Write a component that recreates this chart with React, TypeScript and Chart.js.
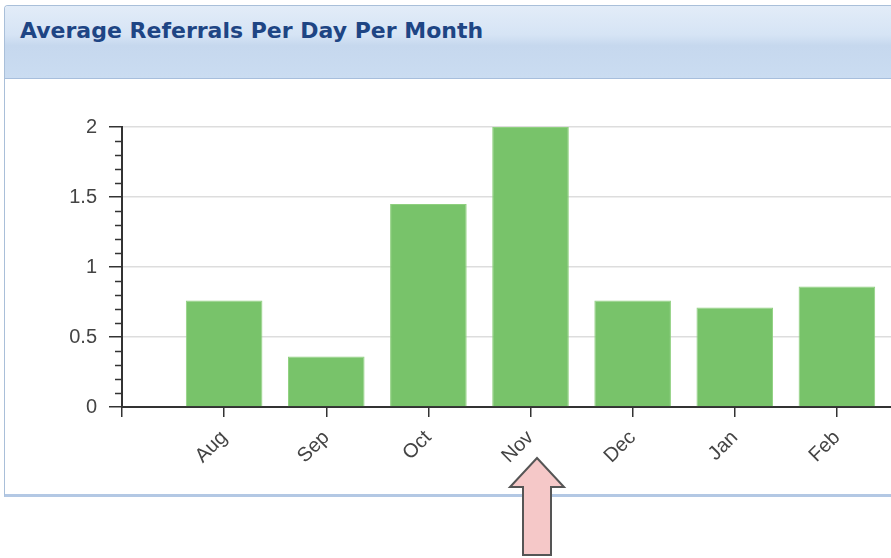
import React, { useEffect, useRef } from "react";
import { Chart, registerables } from "chart.js";

Chart.register(...registerables);

const TITLE = "Average Referrals Per Day Per Month";
const MONTHS = ["", "Aug", "Sep", "Oct", "Nov", "Dec", "Jan", "Feb", ""];
const REFERRALS: (number | null)[] = [null, 0.76, 0.36, 1.45, 2.0, 0.76, 0.71, 0.86, null];
const Y_MIN = 0;
const Y_MAX = 2;
const Y_STEP = 0.5;
const Y_MINOR_STEP = 0.1;

const minorTicks = {
  id: "minorTicks",
  afterDraw(chart: any) {
    const y = chart.scales.y;
    const ctx = chart.ctx;
    const x0 = chart.chartArea.left;
    ctx.save();
    ctx.strokeStyle = "#333";
    ctx.lineWidth = 1.5;
    const n = Math.round((Y_MAX - Y_MIN) / Y_MINOR_STEP);
    for (let i = 0; i <= n; i++) {
      const v = Y_MIN + i * Y_MINOR_STEP;
      if (Math.abs(v / Y_STEP - Math.round(v / Y_STEP)) < 1e-6) continue;
      const py = Math.round(y.getPixelForValue(v)) + 0.5;
      ctx.beginPath();
      ctx.moveTo(x0 - 7, py);
      ctx.lineTo(x0, py);
      ctx.stroke();
    }
    ctx.restore();
  },
};

function BarChart() {
  const ref = useRef<HTMLCanvasElement>(null);
  useEffect(() => {
    if (!ref.current) return;
    const chart = new Chart(ref.current, {
      type: "bar",
      data: {
        labels: MONTHS,
        datasets: [
          {
            data: REFERRALS,
            backgroundColor: "#78c36a",
            borderColor: "#8fd07f",
            borderWidth: 1,
            categoryPercentage: 1,
            barPercentage: 0.75,
          },
        ],
      },
      options: {
        animation: false,
        responsive: false,
        maintainAspectRatio: false,
        layout: { padding: { top: 48, right: 0, left: 0, bottom: 0 } },
        plugins: { legend: { display: false }, tooltip: { enabled: false }, title: { display: false } },
        scales: {
          x: {
            type: "category",
            offset: false,
            grid: { offset: false, drawOnChartArea: false, drawTicks: true, tickLength: 10, color: "#333", lineWidth: 1.5 },
            border: { display: true, color: "#333", width: 2 },
            ticks: {
              maxRotation: 45,
              minRotation: 45,
              autoSkip: false,
              padding: 9,
              color: "#444",
              font: { family: "'Liberation Sans', Arial, sans-serif", size: 20 },
            },
            afterFit: (s: any) => {
              s.height = 86;
            },
          },
          y: {
            min: Y_MIN,
            max: Y_MAX,
            ticks: {
              stepSize: Y_STEP,
              padding: 12,
              color: "#444",
              font: { family: "'Liberation Sans', Arial, sans-serif", size: 20 },
              callback: (v: any) => String(Number(v)),
            },
            grid: { color: "#dddddd", lineWidth: 1.5, tickLength: 13, tickColor: "#333" },
            border: { display: true, color: "#333", width: 2 },
            afterFit: (s: any) => {
              s.width = 117;
            },
          },
        },
      },
      plugins: [minorTicks],
    });
    return () => chart.destroy();
  }, []);
  return <canvas ref={ref} width={960} height={414} style={{ position: "absolute", left: 0, top: 73, width: 960, height: 414 }} />;
}

export default function App() {
  return (
    <div style={{ position: "fixed", left: 0, top: 0, width: 891, height: 558, overflow: "hidden", background: "#fff" }}>
      <div
        style={{
          position: "absolute",
          left: 4,
          top: 5,
          width: 1000,
          height: 488,
          border: "1px solid #a9bfd9",
          borderBottom: "3px solid #b3c8e4",
          borderRadius: "4px 4px 0 0",
          background: "#fff",
          overflow: "hidden",
        }}
      >
        <div
          style={{
            height: 73,
            background: "linear-gradient(#e2ecf8 0%, #d6e4f5 40%, #c6d8ee 55%, #cadcf1 100%)",
            borderBottom: "1px solid #a7bedc",
            boxSizing: "border-box",
          }}
        >
          <div
            style={{
              position: "absolute",
              left: 15,
              top: 12,
              fontFamily: "'DejaVu Sans', Verdana, sans-serif",
              fontWeight: "bold",
              fontSize: 22,
              color: "#1e4584",
              whiteSpace: "nowrap",
            }}
          >
            {TITLE}
          </div>
        </div>
        <BarChart />
      </div>
      <svg width={891} height={558} style={{ position: "absolute", left: 0, top: 0 }}>
        <polygon
          points="537,458 564,487 551,487 551,555 523,555 523,487 510,487"
          fill="#f5c8c8"
          stroke="#555"
          strokeWidth={2}
          strokeLinejoin="miter"
        />
      </svg>
    </div>
  );
}
